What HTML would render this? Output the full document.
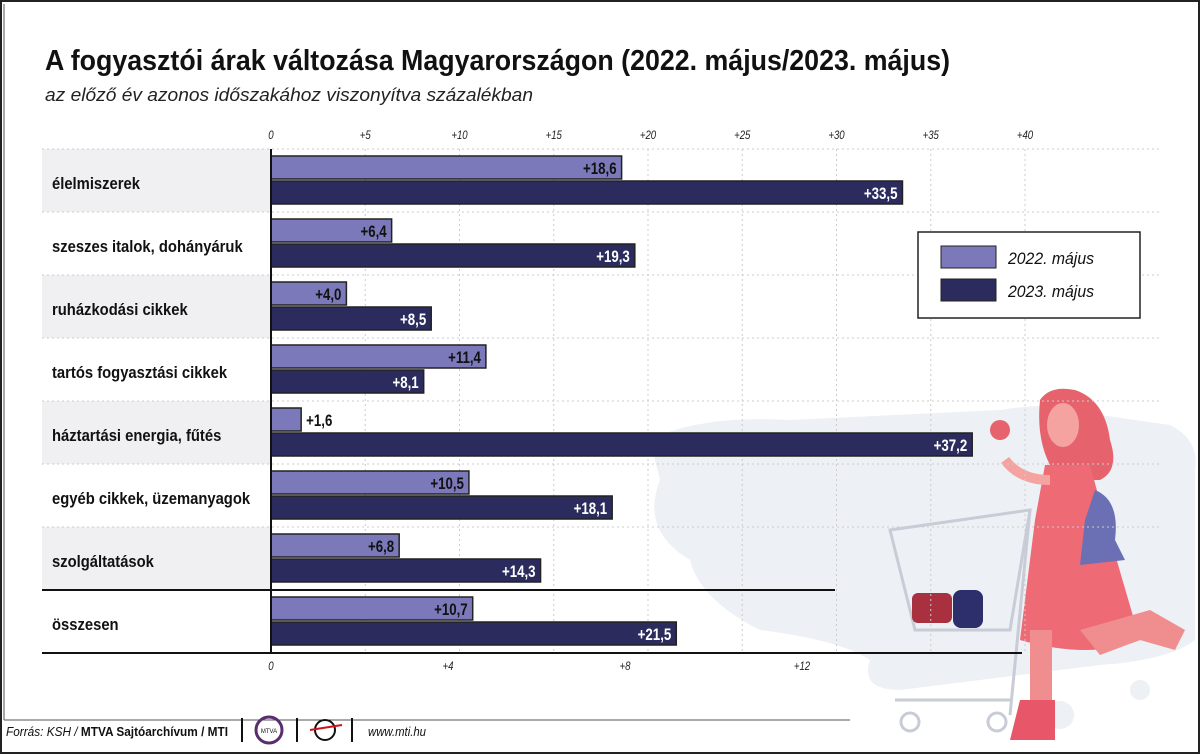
<!DOCTYPE html>
<html><head><meta charset="utf-8">
<style>
html,body{margin:0;padding:0;background:#fff;}
svg{display:block;font-family:"Liberation Sans",sans-serif;}
</style></head>
<body>
<svg id="chart" width="1200" height="754" viewBox="0 0 1200 754" xmlns="http://www.w3.org/2000/svg">
<rect x="1" y="1" width="1198" height="752" fill="#fff" stroke="#222" stroke-width="2"/>
<line x1="4" y1="4" x2="4" y2="720" stroke="#555" stroke-width="1"/>
<line x1="4" y1="720" x2="850" y2="720" stroke="#555" stroke-width="1"/>
<text x="45" y="70" font-size="29" font-weight="bold" fill="#111" textLength="905" lengthAdjust="spacingAndGlyphs">A fogyasztói árak változása Magyarországon (2022. május/2023. május)</text>
<text x="45" y="101" font-size="18" font-style="italic" fill="#222" textLength="488" lengthAdjust="spacingAndGlyphs">az előző év azonos időszakához viszonyítva százalékban</text>
<g id="illus">
<path d="M650 440 Q700 415 790 420 L1000 410 Q1060 400 1100 415 L1170 425 Q1200 440 1195 470 L1195 640 Q1170 660 1100 665 L900 690 Q860 690 870 660 Q840 640 760 630 Q700 600 690 560 Q640 530 660 480 Z" fill="#edf0f4"/>
<circle cx="1060" cy="715" r="14" fill="#edf0f4"/>
<circle cx="1140" cy="690" r="10" fill="#edf0f4"/>
<path d="M1040 400 Q1050 385 1075 390 Q1105 400 1110 440 Q1120 470 1100 480 L1060 480 Q1035 450 1040 400 Z" fill="#e6636e"/>
<ellipse cx="1063" cy="425" rx="16" ry="22" fill="#f4a3a0"/>
<path d="M1045 465 L1090 465 L1105 520 L1140 640 Q1090 660 1020 640 L1035 520 Z" fill="#ee6a74"/>
<rect x="1030" y="630" width="22" height="80" fill="#f08d8e"/>
<path d="M1020 700 L1055 700 L1055 740 L1010 740 Z" fill="#e8566a"/>
<path d="M1080 630 L1150 610 L1185 630 L1175 650 L1140 640 L1100 655 Z" fill="#f08d8e"/>
<path d="M1095 490 Q1120 500 1115 540 L1125 560 L1080 565 L1085 520 Z" fill="#6b6fb4"/>
<path d="M1005 460 Q1020 480 1050 480" stroke="#f4a3a0" stroke-width="10" fill="none"/>
<circle cx="1000" cy="430" r="10" fill="#e6636e"/>
<path d="M890 530 L1030 510 L1010 630 L915 630 Z" fill="none" stroke="#c8ccd6" stroke-width="3"/>
<line x1="1030" y1="510" x2="1010" y2="715" stroke="#c8ccd6" stroke-width="3"/>
<line x1="895" y1="700" x2="1010" y2="700" stroke="#c8ccd6" stroke-width="3"/>
<circle cx="910" cy="722" r="9" fill="none" stroke="#c8ccd6" stroke-width="3"/>
<circle cx="997" cy="722" r="9" fill="none" stroke="#c8ccd6" stroke-width="3"/>
<rect x="912" y="593" width="40" height="30" rx="6" fill="#a8303f"/>
<rect x="953" y="590" width="30" height="38" rx="8" fill="#2c2f6b"/>
</g>
<g id="grid"></g>
<g id="bars"></g>
<g id="legend">
<rect x="918" y="232" width="222" height="86" fill="#fff" stroke="#222" stroke-width="1.5"/>
<rect x="941" y="246" width="55" height="22" fill="#7b79b9" stroke="#222"/>
<text x="1008" y="264" font-size="17" font-style="italic" fill="#111" textLength="86" lengthAdjust="spacingAndGlyphs">2022. május</text>
<rect x="941" y="279" width="55" height="22" fill="#2b2b5e" stroke="#222"/>
<text x="1008" y="297" font-size="17" font-style="italic" fill="#111" textLength="86" lengthAdjust="spacingAndGlyphs">2023. május</text>
</g>
<g>
<text x="6" y="736" font-size="13" font-style="italic" fill="#111" textLength="222" lengthAdjust="spacingAndGlyphs"><tspan>Forrás: KSH / </tspan><tspan font-weight="bold" font-style="normal">MTVA Sajtóarchívum / MTI</tspan></text>
<line x1="242" y1="718" x2="242" y2="742" stroke="#111" stroke-width="2"/>
<circle cx="269" cy="730" r="13" fill="none" stroke="#5a2d6e" stroke-width="3"/>
<text x="269" y="733" font-size="6" text-anchor="middle" fill="#111">MTVA</text>
<line x1="297" y1="718" x2="297" y2="742" stroke="#111" stroke-width="2"/>
<circle cx="325" cy="730" r="10" fill="none" stroke="#111" stroke-width="2"/>
<line x1="310" y1="730" x2="342" y2="725" stroke="#d0121b" stroke-width="2"/>
<line x1="352" y1="718" x2="352" y2="742" stroke="#111" stroke-width="2"/>
<text x="368" y="736" font-size="13" font-style="italic" fill="#111" textLength="58" lengthAdjust="spacingAndGlyphs">www.mti.hu</text>
</g>
</svg>
<script>
const categories=["élelmiszerek","szeszes italok, dohányáruk","ruházkodási cikkek","tartós fogyasztási cikkek","háztartási energia, fűtés","egyéb cikkek, üzemanyagok","szolgáltatások","összesen"];
const values2022=[18.6,6.4,4.0,11.4,1.6,10.5,6.8,10.7];
const values2023=[33.5,19.3,8.5,8.1,37.2,18.1,14.3,21.5];
const topTicks=[0,5,10,15,20,25,30,35,40];
const bottomTickLabels=["0","+4","+8","+12"];
const NS="http://www.w3.org/2000/svg";
const x0=271,unit=18.85,rowTop=149,rowH=63;
const xs=v=>x0+v*unit;
function mk(tag,attrs,parent){const e=document.createElementNS(NS,tag);for(const k in attrs)e.setAttribute(k,attrs[k]);parent.appendChild(e);return e;}
function condense(t,f){const w=t.getComputedTextLength();t.setAttribute('textLength',(w*f).toFixed(1));t.setAttribute('lengthAdjust','spacingAndGlyphs');}
const grid=document.getElementById('grid'),bars=document.getElementById('bars');
const fmt=v=>"+"+v.toFixed(1).replace('.',',');
categories.forEach((c,i)=>{
  const y=rowTop+i*rowH;
  if(i%2===0&&i<7){const r=mk('rect',{x:42,y:y,width:229,height:rowH,fill:'#f0f0f2'},grid);
  
  }
});
topTicks.forEach(t=>{
  const x=xs(t);
  if(t>0){const l=mk('line',{x1:x,y1:rowTop,x2:x,y2:rowTop+8*rowH,stroke:'#ccc','stroke-dasharray':'2,3'},grid);
  
  }
  const tx=mk('text',{x:x,y:139,'font-size':12,'font-style':'italic','text-anchor':'middle',fill:'#222'},grid);
  tx.textContent=t===0?"0":"+"+t;
  
  
  condense(tx,0.8);
});
bottomTickLabels.forEach((t,i)=>{
  const tx=mk('text',{x:x0+i*177,y:670,'font-size':12,'font-style':'italic','text-anchor':'middle',fill:'#222'},grid);
  tx.textContent=t;
  
  
  condense(tx,0.8);
});
for(let i=0;i<=8;i++){
  const y=rowTop+i*rowH;
  if(i===7){const l=mk('line',{x1:42,y1:y,x2:835,y2:y,stroke:'#111','stroke-width':2},grid);}
  else if(i===8){const l=mk('line',{x1:42,y1:y,x2:1022,y2:y,stroke:'#111','stroke-width':2},grid);}
  else {const l=mk('line',{x1:42,y1:y,x2:1160,y2:y,stroke:'#ccc','stroke-dasharray':'2,3'},grid);}
}
categories.forEach((c,i)=>{
  const y=rowTop+i*rowH;
  const lab=mk('text',{x:52,y:y+40,'font-size':17,'font-weight':'bold',fill:'#111'},bars);
  lab.textContent=c;
  
  
  condense(lab,0.87);
  [[values2022[i],'#7b79b9',7],[values2023[i],'#2b2b5e',32]].forEach(([v,col,off],j)=>{
    const w=v*unit;
    const b=mk('rect',{x:x0,y:y+off,width:w,height:23,fill:col,stroke:'#222','stroke-width':1.5},bars);
    
    
    const inside=w>60;
    const t=mk('text',{x:inside?xs(v)-5:xs(v)+5,y:y+off+18,'font-size':17,'font-weight':'bold','text-anchor':inside?'end':'start',fill:(inside&&j===1)?'#fff':'#111'},bars);
    t.textContent=fmt(v);
    
    
    condense(t,0.78);
  });
});
const ax=mk('line',{x1:x0,y1:rowTop,x2:x0,y2:rowTop+8*rowH,stroke:'#111','stroke-width':2},bars);


</script>
</body></html>
